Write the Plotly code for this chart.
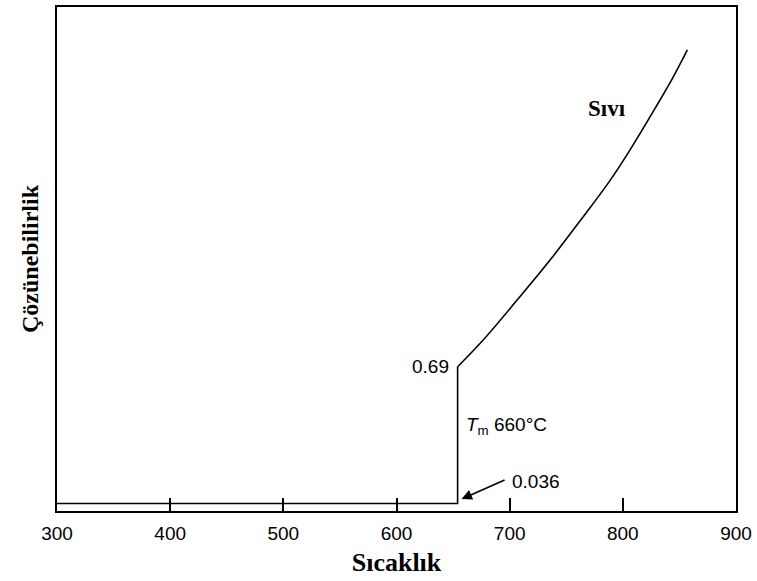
import plotly.graph_objects as go

# Solid branch (flat solubility up to melting point)
solid_T = [300, 654]
solid_S = [0.036, 0.036]
# Jump at melting point
melt_T = [654, 654]
melt_S = [0.036, 0.69]
# Liquid branch
liquid_T = [654, 676, 706, 735, 764, 788, 805, 829, 843.5, 857]
liquid_S = [0.69, 0.814, 1.005, 1.195, 1.40, 1.575, 1.715, 1.930, 2.065, 2.205]

x_ticks = [300, 400, 500, 600, 700, 800, 900]

line_style = dict(color="black", width=1.6)

fig = go.Figure()
fig.add_trace(go.Scatter(x=solid_T + melt_T[1:], y=solid_S + melt_S[1:],
                         mode="lines", line=line_style, showlegend=False,
                         hoverinfo="skip"))
fig.add_trace(go.Scatter(x=liquid_T, y=liquid_S, mode="lines",
                         line=dict(color="black", width=1.6, shape="spline", smoothing=1.0),
                         showlegend=False, hoverinfo="skip"))

tick_font = dict(family="Liberation Sans, Arial", size=19, color="black")
serif_bold = dict(family="Liberation Serif, Times New Roman", size=26, color="black")

annotations = [
    dict(x=648.5, y=0.69, xref="x", yref="y", text="0.69", showarrow=False,
         xanchor="right", yanchor="middle", font=tick_font),
    dict(x=660, y=0.405, xref="x", yref="y",
         text="<i>T</i><sub>m</sub> 660°C", showarrow=False,
         xanchor="left", yanchor="middle", font=tick_font),
    dict(x=700, y=0.143, xref="x", yref="y", text="0.036", showarrow=False,
         xanchor="left", yanchor="middle", font=tick_font),
    dict(x=657.5, y=0.057, xref="x", yref="y", text=" ", showarrow=True,
         ax=45, ay=-20, arrowhead=2, arrowsize=1.3, arrowwidth=1.6,
         arrowcolor="black", standoff=0, font=dict(size=2)),
    dict(x=786, y=1.924, xref="x", yref="y", text="<b>Sıvı</b>", showarrow=False,
         xanchor="center", yanchor="middle",
         font=dict(family="Liberation Serif, Times New Roman", size=23, color="black")),
]

fig.update_layout(
    width=757, height=581,
    margin=dict(l=57, r=20, t=5, b=70),
    paper_bgcolor="white", plot_bgcolor="white",
    annotations=annotations,
    xaxis=dict(range=[300, 900], tickvals=x_ticks, ticktext=[str(v) for v in x_ticks],
               ticks="inside", ticklen=13, tickwidth=1.5, tickcolor="black",
               ticklabelstandoff=4,
               showline=True, linecolor="black", linewidth=1.6, mirror=True,
               showgrid=False, zeroline=False, tickfont=tick_font,
               title=dict(text="<b>Sıcaklık</b>", font=serif_bold, standoff=10)),
    yaxis=dict(range=[0, 2.41], showticklabels=False, ticks="",
               showline=True, linecolor="black", linewidth=1.6, mirror=True,
               showgrid=False, zeroline=False,
               title=dict(text="<b>Çözünebilirlik</b>",
                          font=dict(family="Liberation Serif, Times New Roman", size=24, color="black"),
                          standoff=10)),
)

fig.write_html("out.html")
